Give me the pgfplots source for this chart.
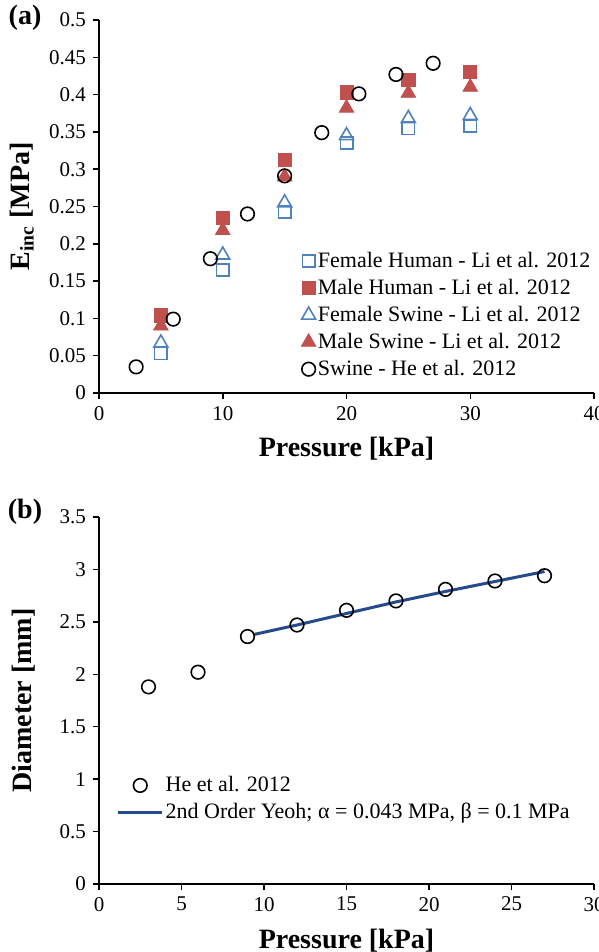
\documentclass[border=0pt]{standalone}
\usepackage{fontspec}
\setmainfont{Liberation Serif}
\usepackage{pgfplots}
\pgfplotsset{compat=1.18}
\definecolor{xred}{RGB}{192,80,77}
\definecolor{xblue}{RGB}{79,129,189}
\definecolor{xline}{RGB}{37,75,140}
\pgfplotsset{
  common/.style={
    scale only axis,
    axis lines*=left,
    axis line style={-, line width=0.75pt, black},
    tick style={black, line width=0.75pt},
    major tick length=3pt,
    tick align=outside,
    /pgf/number format/assume math mode=true,
    tick label style={font=\fontsize{10.5}{12}\selectfont},
    yticklabel style={/pgf/number format/fixed, /pgf/number format/precision=2},
    clip=false,
  },
  markA/.style={legend image code/.code={\draw[mark repeat=2,mark phase=2,##1] plot coordinates {(0cm,0cm) (0.2cm,0cm) (0.4cm,0cm)};}},
  markB/.style={legend image code/.code={\draw[mark repeat=2,mark phase=2,##1] plot coordinates {(0pt,0pt) (11pt,0pt) (22pt,0pt)};}},
  lineB/.style={legend image code/.code={\draw[##1] plot coordinates {(0pt,0pt) (22pt,0pt)};}},
}
\begin{document}
\begin{tikzpicture}
\useasboundingbox (0,0) rectangle (299.5pt,-476pt);
\node[font=\fontsize{14}{16}\selectfont\bfseries] at (12.5pt,-9pt) {(a)};
\node[font=\fontsize{14}{16}\selectfont\bfseries] at (12.5pt,-256pt) {(b)};
\begin{axis}[common,
  at={(49.5pt,-10pt)}, anchor=north west,
  width=247.5pt, height=186.5pt,
  xmin=0, xmax=40, ymin=0, ymax=0.5,
  xtick={0,10,20,30,40},
  ytick={0,0.05,...,0.5},
  xlabel={\textbf{Pressure [kPa]}},
  ylabel={\textbf{E\textsubscript{inc} [MPa]}},
  every axis x label/.style={at={(axis description cs:0.5,-0.15)}, anchor=center, font=\fontsize{14}{16}\selectfont\bfseries},
  every axis y label/.style={at={(axis description cs:-0.156,0.5)}, rotate=90, anchor=center, font=\fontsize{14}{16}\selectfont\bfseries},
  legend style={at={(0.408,0.385)}, anchor=north west, draw=none, fill=none,
    font=\fontsize{11}{13}\selectfont, inner sep=0pt, row sep=2.4pt,
    nodes={inner sep=1pt}},
  legend cell align=left,
  markA,
]
\addplot[only marks, mark=square, mark size=3.1pt, draw=xblue, line width=0.8pt] coordinates {
(5,0.053) (10,0.165) (15,0.243) (20,0.335) (25,0.355) (30,0.358)};
\addlegendentry{Female Human - Li et al. 2012}
\addplot[only marks, mark=square*, mark size=3.3pt, draw=xred, fill=xred] coordinates {
(5,0.104) (10,0.235) (15,0.312) (20,0.403) (25,0.420) (30,0.430)};
\addlegendentry{Male Human - Li et al. 2012}
\addplot[only marks, mark=triangle, mark size=4pt, draw=xblue, line width=0.8pt] coordinates {
(5,0.067) (10,0.185) (15,0.255) (20,0.345) (25,0.368) (30,0.372)};
\addlegendentry{Female Swine  - Li et al. 2012}
\addplot[only marks, mark=triangle*, mark size=4.2pt, draw=xred, fill=xred] coordinates {
(5,0.090) (10,0.218) (15,0.290) (20,0.382) (25,0.402) (30,0.410)};
\addlegendentry{Male Swine  - Li et al. 2012}
\addplot[only marks, mark=o, mark size=3.4pt, draw=black, line width=0.8pt] coordinates {
(3,0.035) (6,0.099) (9,0.180) (12,0.240) (15,0.291) (18,0.349) (21,0.401) (24,0.427) (27,0.442)};
\addlegendentry{Swine  - He et al. 2012}
\end{axis}
\begin{axis}[common,
  at={(49.5pt,-258.5pt)}, anchor=north west,
  width=247.5pt, height=183.5pt,
  xmin=0, xmax=30, ymin=0, ymax=3.5,
  xtick={0,5,...,30},
  ytick={0,0.5,...,3.5},
  xlabel={\textbf{Pressure [kPa]}},
  ylabel={\textbf{Diameter [mm]}},
  every axis x label/.style={at={(axis description cs:0.5,-0.155)}, anchor=center, font=\fontsize{14}{16}\selectfont\bfseries},
  every axis y label/.style={at={(axis description cs:-0.152,0.5)}, rotate=90, anchor=center, font=\fontsize{14}{16}\selectfont\bfseries},
  legend style={at={(0.035,0.30)}, anchor=north west, draw=none, fill=none,
    font=\fontsize{11}{13}\selectfont, inner sep=0pt, row sep=2.4pt,
    nodes={inner sep=1pt}},
  legend cell align=left,
]
\addplot[only marks, mark=o, mark size=3.4pt, draw=black, line width=0.8pt, markB] coordinates {
(3,1.88) (6,2.02) (9,2.36) (12,2.47) (15,2.61) (18,2.70) (21,2.81) (24,2.89) (27,2.94)};
\addlegendentry{He et al. 2012}
\addplot[xline, line width=1.5pt, no marks, lineB] coordinates {
(9.4,2.38) (12,2.47) (15,2.58) (18,2.69) (21,2.79) (24,2.885) (27,2.98)};
\addlegendentry{2nd Order Yeoh; α = 0.043 MPa, β = 0.1 MPa}
\end{axis}
\end{tikzpicture}
\end{document}
